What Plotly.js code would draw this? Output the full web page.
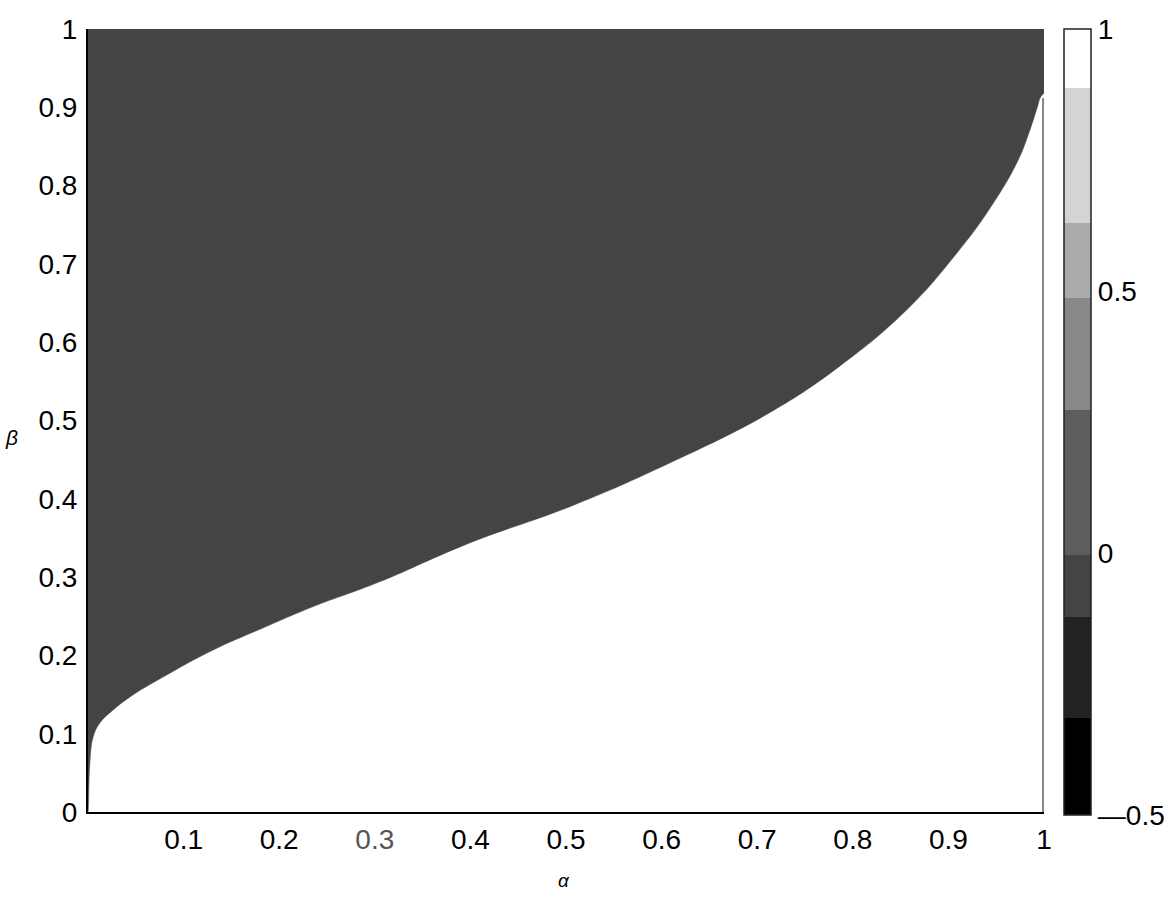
<!DOCTYPE html>
<html>
<head>
<meta charset="utf-8">
<script src="https://cdn.plot.ly/plotly-3.0.1.min.js"></script>
<style>html,body{margin:0;padding:0;background:#fff;}#chart{width:1171px;height:898px;}</style>
</head>
<body>
<div id="chart"></div>
<script>
// Boundary curve between the dark region (above) and the white region (below)
const boundaryAlpha = [0, 0.0003, 0.002, 0.0055, 0.0126, 0.026, 0.044, 0.078, 0.131, 0.183, 0.235, 0.305, 0.400, 0.504, 0.609, 0.713, 0.787, 0.857, 0.909, 0.944, 0.972, 0.985, 0.993, 0.996, 1];
const boundaryBeta  = [0, 0.0026, 0.063, 0.096, 0.114, 0.130, 0.147, 0.172, 0.207, 0.235, 0.262, 0.294, 0.344, 0.390, 0.446, 0.510, 0.570, 0.642, 0.714, 0.772, 0.830, 0.870, 0.900, 0.912, 0.918];
// Top edge of the dark region
const topAlpha = [0, 1];
const topBeta  = [1, 1];

// Colour bar levels (value boundaries) and colours
const levelBounds = [-0.5, -0.315, -0.123, -0.003, 0.273, 0.487, 0.630, 0.888, 1.0];
const levelColors = ['#000000', '#222222', '#444444', '#5d5d5d', '#888888', '#aaaaaa', '#d4d4d4', '#ffffff'];
const cbTickVals = [-0.5, 0, 0.5, 1];
const cbTickText = ['—0.5', '0', '0.5', '1'];

const xTickVals = [0.1, 0.2, 0.3, 0.4, 0.5, 0.6, 0.7, 0.8, 0.9, 1];
const xTickText = ['0.1', '0.2', '<span style="color:#555">0.3</span>', '0.4', '0.5', '0.6', '0.7', '0.8', '0.9', '1'];
const yTickVals = [0, 0.1, 0.2, 0.3, 0.4, 0.5, 0.6, 0.7, 0.8, 0.9, 1];
const yTickText = ['0', '0.1', '0.2', '0.3', '0.4', '0.5', '0.6', '0.7', '0.8', '0.9', '1'];

const cmin = levelBounds[0], cmax = levelBounds[levelBounds.length - 1];
const colorscale = [];
for (let i = 0; i < levelColors.length; i++) {
  const a = (levelBounds[i] - cmin) / (cmax - cmin);
  const b = (levelBounds[i + 1] - cmin) / (cmax - cmin);
  colorscale.push([a, levelColors[i]]);
  colorscale.push([b, levelColors[i]]);
}

const FONT = 'Liberation Sans, Arial, Helvetica, sans-serif';

const topEdge = {
  type: 'scatter', mode: 'lines',
  x: topAlpha, y: topBeta,
  line: {width: 0, color: '#444444'},
  hoverinfo: 'skip', showlegend: false
};

const region = {
  type: 'scatter', mode: 'lines',
  x: boundaryAlpha, y: boundaryBeta,
  fill: 'tonexty', fillcolor: '#444444',
  line: {width: 0.5, color: '#444444', shape: 'spline', smoothing: 1.2},
  hoverinfo: 'skip', showlegend: false
};

const scaleTrace = {
  type: 'scatter', mode: 'markers',
  x: [0.5], y: [0.5],
  marker: {
    color: [0], cmin: cmin, cmax: cmax, colorscale: colorscale, opacity: 0, size: 1,
    showscale: true,
    colorbar: {
      x: 1.0209, xanchor: 'left', xpad: 0, ypad: 0,
      y: 0.498, yanchor: 'middle',
      len: 786, lenmode: 'pixels',
      thickness: 27, thicknessmode: 'pixels',
      outlinewidth: 1.5, outlinecolor: '#222222',
      tickmode: 'array', tickvals: cbTickVals, ticktext: cbTickText,
      ticks: '', ticklabelstandoff: 2,
      tickfont: {family: FONT, size: 28, color: '#000'}
    }
  },
  hoverinfo: 'skip', showlegend: false
};

const layout = {
  width: 1171, height: 898,
  margin: {l: 88, r: 127, t: 29, b: 86},
  paper_bgcolor: '#ffffff', plot_bgcolor: '#ffffff',
  xaxis: {
    range: [0, 1], showgrid: false, zeroline: false,
    showline: true, linecolor: '#000', linewidth: 2,
    tickmode: 'array', tickvals: xTickVals, ticktext: xTickText,
    ticks: '', ticklabelstandoff: 1,
    tickfont: {family: FONT, size: 28, color: '#000'}
  },
  yaxis: {
    range: [0, 1], showgrid: false, zeroline: false,
    showline: true, linecolor: '#000', linewidth: 2,
    tickmode: 'array', tickvals: yTickVals, ticktext: yTickText,
    ticks: '', ticklabelstandoff: 3,
    tickfont: {family: FONT, size: 28, color: '#000'}
  },
  shapes: [
    {type: 'line', xref: 'paper', yref: 'paper', x0: 0.999, x1: 0.999, y0: 0, y1: 0.912,
     line: {color: '#888888', width: 2}}
  ],
  annotations: [
    {text: '<i>α</i>', xref: 'paper', yref: 'paper', x: 0.4976, y: -0.087,
     xanchor: 'center', yanchor: 'middle', showarrow: false,
     font: {family: FONT, size: 19, color: '#000'}},
    {text: '<i>β</i>', xref: 'paper', yref: 'paper', x: -0.08, y: 0.478,
     xanchor: 'center', yanchor: 'middle', showarrow: false,
     font: {family: FONT, size: 21, color: '#000'}}
  ]
};

Plotly.newPlot('chart', [topEdge, region, scaleTrace], layout, {displayModeBar: false, staticPlot: true});
</script>
</body>
</html>
